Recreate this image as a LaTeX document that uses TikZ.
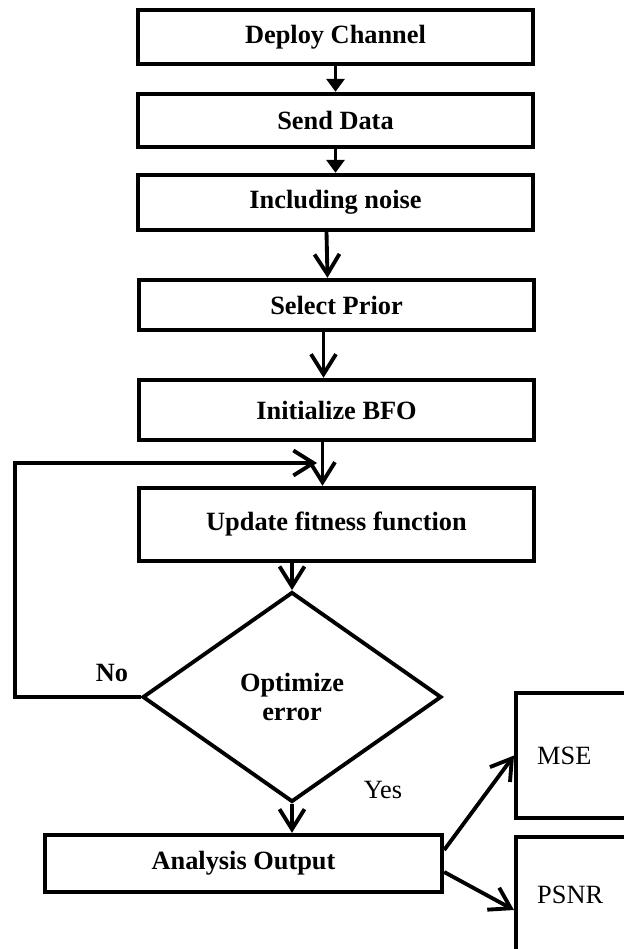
\documentclass[tikz,border=0pt]{standalone}
\usepackage{fontspec}
\setmainfont{Liberation Serif}
\usepackage{tikz}
\usetikzlibrary{arrows.meta,shapes.geometric}
\newcommand{\bsize}{\fontsize{15}{17}\selectfont}

\begin{document}
\begin{tikzpicture}[x=0.02cm,y=-0.02cm]
 \tikzset{box/.style={draw,line width=2.5pt,minimum width=7.9cm,inner sep=0pt,font=\bsize\bfseries},
  arrow/.style={line width=2.2pt,-{Straight Barb[length=4mm,width=5mm]}},
  farrow/.style={line width=2.2pt,-{Triangle[length=2.6mm,width=3.6mm]}}}
 \useasboundingbox (0,0) rectangle (624,949);
 \clip (0,0) rectangle (624,949);
 \node[box,minimum height=1.08cm] (A) at (335.5,37) {Deploy Channel};
 \node[box,minimum height=1.06cm] (B) at (335.5,120.5) {Send Data};
 \node[box,minimum height=1.1cm] (C) at (335.5,202.5) {Including noise};
 \node[box,minimum height=1cm] (D) at (336.5,305) {Select Prior};
 \node[box,minimum height=1.2cm] (E) at (336.5,410) {Initialize BFO};
 \node[box,minimum height=1.46cm] (F) at (336.5,524.5) {Update fitness function};
 \node[draw,diamond,line width=2.2pt,minimum width=5.98cm,minimum height=4.2cm,inner sep=0pt,
  align=center,font=\bsize\bfseries] (G) at (292,697) {Optimize\\error};
 \node[box,minimum width=7.94cm,minimum height=1.14cm] (H) at (243.5,863.5) {Analysis Output};
 \node[box,anchor=west,minimum width=4cm,minimum height=2.5cm,text width=3.2cm,inner xsep=0.42cm,
  align=left,font=\bsize] (M) at (514,755.5) {MSE};
 \node[box,anchor=west,minimum width=4cm,minimum height=2.3cm,text width=3.2cm,inner xsep=0.42cm,
  align=left,font=\bsize] (P) at (514,894.5) {PSNR};
 \node[font=\bsize\bfseries] (N) at (112,673) {No};
 \node[font=\bsize] (Y) at (383,790) {Yes};
 \coordinate (L) at (15,463);
 \coordinate (J) at (317,463);

 \draw[farrow] (A) -- (B);
 \draw[farrow] (B) -- (C);
 \draw[arrow] ([xshift=-1.8mm]C.south) -- ([xshift=-1.8mm]D.north);
 \draw[arrow] ([xshift=-2.6mm]D.south) -- ([xshift=-2.6mm]E.north);
 \draw[arrow] ([xshift=-2.8mm]E.south) -- ([xshift=-2.8mm]F.north);
 \draw[arrow] (G.north |- F.south) -- (G.north);
 \draw[arrow] (G.south) -- (G.south |- H.north);
 \draw[arrow] (G.west) -| (L) -- (J);
 \draw[arrow] ([yshift=2.7mm]H.east) -- (M.west);
 \draw[arrow] ([yshift=-1.7mm]H.east) -- ([yshift=-3.1mm]P.west);
\end{tikzpicture}
\end{document}
